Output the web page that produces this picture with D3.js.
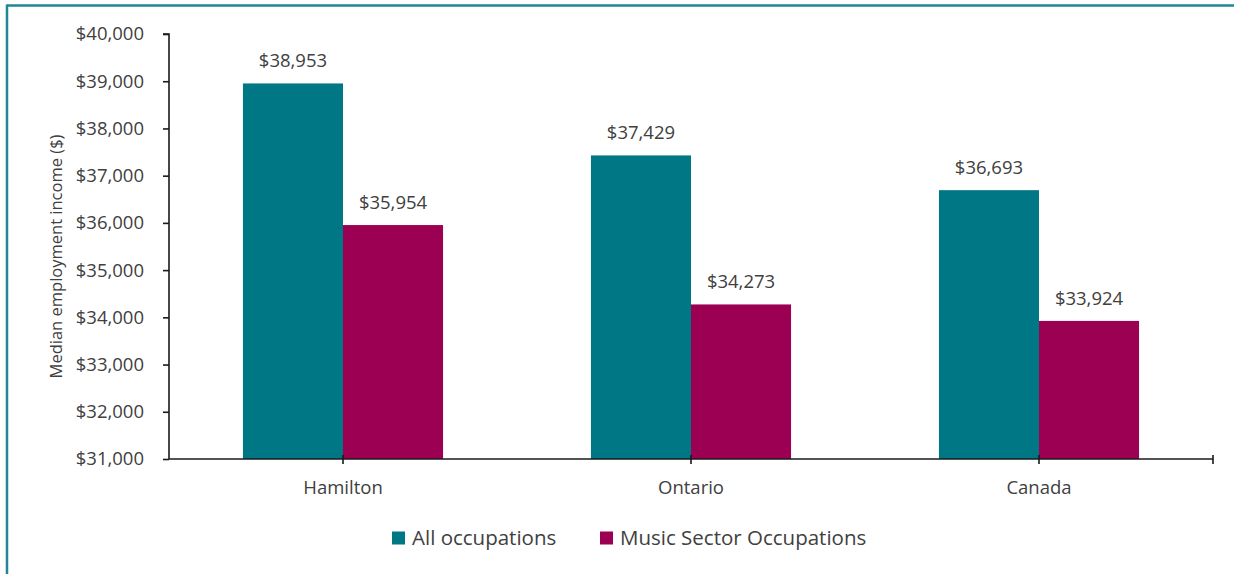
<!DOCTYPE html>
<html>
<head>
<meta charset="utf-8">
<script src="https://cdn.jsdelivr.net/npm/d3@7"></script>
<style>
  html, body { margin: 0; padding: 0; background: #ffffff; }
  svg { display: block; font-family: "Open Sans", sans-serif; }
</style>
</head>
<body>
<svg id="chart" width="1234" height="574"></svg>
<script>
// ---- data ----
const categories = ["Hamilton", "Ontario", "Canada"];
const seriesNames = ["All occupations", "Music Sector Occupations"];
const allOccupations = [38953, 37429, 36693];
const musicSector = [35954, 34273, 33924];
const yTicks = [31000, 32000, 33000, 34000, 35000, 36000, 37000, 38000, 39000, 40000];
const seriesColors = ["#007785", "#9c0052"];
const yTitle = "Median employment income ($)";

const series = [allOccupations, musicSector];

const svg = d3.select("#chart");
const W = 1234, H = 574;
const plot = { left: 169, right: 1213, top: 34, bottom: 459 };
const textColor = "#404040";
const fmt = v => "$" + d3.format(",")(v);

// outer frame (teal border on top and left)
svg.append("line").attr("x1", 7).attr("x2", W).attr("y1", 5.5).attr("y2", 5.5)
  .attr("stroke", "#1f8796").attr("stroke-width", 2.5);
svg.append("line").attr("x1", 7).attr("x2", 7).attr("y1", 4.5).attr("y2", H)
  .attr("stroke", "#1f8796").attr("stroke-width", 2.5);

const y = d3.scaleLinear().domain([31000, 40000]).range([plot.bottom, plot.top]);
const x0 = d3.scaleBand().domain(categories).range([plot.left, plot.right])
  .paddingInner(0.425).paddingOuter(0.2125);
const x1 = d3.scaleBand().domain(d3.range(series.length)).range([0, x0.bandwidth()]);

// bars
series.forEach((vals, si) => {
  svg.append("g").selectAll("rect").data(categories).join("rect")
    .attr("x", c => x0(c) + x1(si))
    .attr("width", x1.bandwidth())
    .attr("y", (c, i) => y(vals[i]))
    .attr("height", (c, i) => y(31000) - y(vals[i]))
    .attr("fill", seriesColors[si]);
  svg.append("g").selectAll("text").data(categories).join("text")
    .attr("x", c => x0(c) + x1(si) + x1.bandwidth() / 2)
    .attr("y", (c, i) => y(vals[i]) - 16)
    .attr("text-anchor", "middle")
    .attr("font-size", 18.5)
    .attr("fill", textColor)
    .text((c, i) => fmt(vals[i]));
});

// y axis
const yAxis = d3.axisLeft(y).tickValues(yTicks).tickFormat(fmt).tickSize(6).tickPadding(19);
const gy = svg.append("g").attr("transform", `translate(${plot.left},0)`).call(yAxis);
gy.select(".domain").attr("stroke", "#1a1a1a").attr("stroke-width", 1.6)
  .attr("d", `M-6,${plot.top}H0V${plot.bottom}`);
gy.selectAll(".tick line").attr("stroke", "#1a1a1a").attr("stroke-width", 1.6);
gy.selectAll(".tick text").attr("font-size", 18.5).attr("fill", textColor)
  .attr("font-family", "Open Sans, sans-serif");

// x axis
const xAxis = d3.axisBottom(x0).tickSize(0).tickPadding(22);
const gx = svg.append("g").attr("transform", `translate(0,${plot.bottom})`).call(xAxis);
gx.select(".domain").attr("stroke", "#1a1a1a").attr("stroke-width", 1.6)
  .attr("d", `M${plot.left},0H${plot.right}`);
gx.selectAll(".tick text").attr("font-size", 18.5).attr("fill", textColor)
  .attr("font-family", "Open Sans, sans-serif");
// tick marks at category centres and at the right end
const xTickPos = categories.map(c => x0(c) + x0.bandwidth() / 2).concat([plot.right]);
gx.append("g").selectAll("line").data(xTickPos).join("line")
  .attr("x1", d => d).attr("x2", d => d).attr("y1", -4).attr("y2", 5)
  .attr("stroke", "#1a1a1a").attr("stroke-width", 1.6);

// y title
svg.append("text")
  .attr("transform", `translate(62,${(plot.top + plot.bottom) / 2 + 10}) rotate(-90)`)
  .attr("text-anchor", "middle")
  .attr("font-size", 16.5)
  .attr("fill", textColor)
  .text(yTitle);

// legend
const legendX = [392, 600];
const lg = svg.append("g");
seriesNames.forEach((name, i) => {
  lg.append("rect").attr("x", legendX[i]).attr("y", 531.5).attr("width", 13).attr("height", 13)
    .attr("fill", seriesColors[i]);
  lg.append("text").attr("x", legendX[i] + 20).attr("y", 545)
    .attr("font-size", 20.5).attr("fill", textColor).text(name);
});
</script>
</body>
</html>
